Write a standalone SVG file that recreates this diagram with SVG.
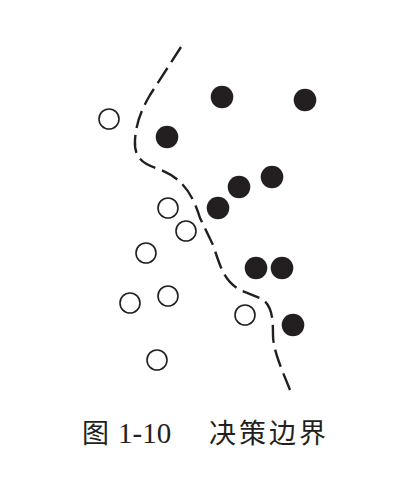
<svg xmlns="http://www.w3.org/2000/svg" width="417" height="478" viewBox="0 0 417 478">
<style>
.pos{fill:#231f20;stroke:none}
.neg{fill:#fff;stroke:#231f20;stroke-width:1.6}
.boundary{fill:none;stroke:#231f20;stroke-width:2.4;stroke-dasharray:18 7}
.cjk{font-family:"Noto Sans CJK SC","Noto Sans CJK TC",sans-serif;font-size:27px;fill:#231f20}
.num{font-family:"Liberation Serif",serif;font-size:29px;fill:#231f20}
</style>
<rect width="417" height="478" fill="#fff"/>
<g id="connectors">
<path class="boundary" d="M181,47 L150,95 C140,112 136,125 135,140 C134,155 140,163 156,168 C175,175 190,185 200,218 L213,245 C220,265 223,280 240,290 L262,299 C272,306 273,318 273,335 C273,350 282,370 290,390"/>
</g>
<g id="positives">
<circle class="pos" cx="222" cy="97" r="11.3"/>
<circle class="pos" cx="305" cy="100" r="11.3"/>
<circle class="pos" cx="167" cy="137" r="11.3"/>
<circle class="pos" cx="239" cy="187" r="11.3"/>
<circle class="pos" cx="272" cy="177" r="11.3"/>
<circle class="pos" cx="218" cy="208" r="11.3"/>
<circle class="pos" cx="256" cy="268" r="11.3"/>
<circle class="pos" cx="282" cy="268" r="11.3"/>
<circle class="pos" cx="293" cy="325" r="11.3"/>
</g>
<g id="negatives">
<circle class="neg" cx="109" cy="119" r="10"/>
<circle class="neg" cx="168" cy="208" r="10"/>
<circle class="neg" cx="186" cy="231" r="10"/>
<circle class="neg" cx="146" cy="253" r="10"/>
<circle class="neg" cx="168" cy="296" r="10"/>
<circle class="neg" cx="130" cy="303" r="10"/>
<circle class="neg" cx="245" cy="315" r="10"/>
<circle class="neg" cx="157" cy="360" r="10"/>
</g>
<g id="caption">
<text class="cjk" x="82" y="443">图</text>
<text class="num" x="118" y="443">1-10</text>
<text class="cjk" x="209" y="443" letter-spacing="3">决策边界</text>
</g>
</svg>
